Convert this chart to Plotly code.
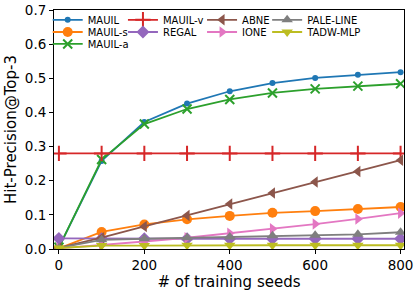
import plotly.graph_objects as go

seeds = [0, 100, 200, 300, 400, 500, 600, 700, 800]

mauil = [0.005, 0.258, 0.372, 0.426, 0.462, 0.486, 0.501, 0.510, 0.518]
mauil_s = [0.002, 0.050, 0.072, 0.087, 0.097, 0.106, 0.111, 0.117, 0.123]
mauil_a = [0.005, 0.262, 0.366, 0.410, 0.438, 0.457, 0.469, 0.477, 0.484]
mauil_v = [0.280, 0.280, 0.280, 0.280, 0.280, 0.280, 0.280, 0.280, 0.280]
regal = [0.031, 0.030, 0.030, 0.030, 0.030, 0.030, 0.030, 0.030, 0.030]
abne = [0.003, 0.033, 0.066, 0.098, 0.132, 0.164, 0.196, 0.227, 0.260]
ione = [0.002, 0.011, 0.022, 0.033, 0.046, 0.059, 0.073, 0.088, 0.105]
pale_line = [0.003, 0.027, 0.030, 0.033, 0.035, 0.039, 0.040, 0.043, 0.049]
tadw_mlp = [0.003, 0.010, 0.010, 0.011, 0.011, 0.011, 0.011, 0.011, 0.011]

y_ticks = [0.0, 0.1, 0.2, 0.3, 0.4, 0.5, 0.6, 0.7]
x_ticks = [0, 200, 400, 600, 800]

FONT = "DejaVu Sans"

series = [
    ("MAUIL", mauil, "#1f77b4", "circle", 6, "legend"),
    ("MAUIL-s", mauil_s, "#ff7f0e", "circle", 10, "legend2"),
    ("MAUIL-a", mauil_a, "#2ca02c", "x-thin", 9, "legend3"),
    ("MAUIL-v", mauil_v, "#d62728", "cross-thin", 11, "legend4"),
    ("REGAL", regal, "#9467bd", "diamond", 10, "legend5"),
    ("ABNE", abne, "#8c564b", "triangle-left", 10, "legend6"),
    ("IONE", ione, "#e377c2", "triangle-right", 10, "legend7"),
    ("PALE-LINE", pale_line, "#7f7f7f", "triangle-up", 10, "legend8"),
    ("TADW-MLP", tadw_mlp, "#bcbd22", "triangle-down", 10, "legend9"),
]

fig = go.Figure()
for name, ys, color, sym, size, leg in series:
    thin = sym.endswith("-thin")
    fig.add_trace(go.Scatter(
        x=seeds, y=ys, name=name, mode="lines+markers",
        line=dict(color=color, width=1.8),
        marker=dict(symbol=sym, size=size, color=color,
                    line=dict(color=color, width=2 if thin else 0)),
        legend=leg,
    ))

# legend layout: 4 columns, placed like the reference
col_x = [-0.018, 0.197, 0.423, 0.609]
row_y = [0.959, 0.908, 0.858]
positions = {
    "legend": (col_x[0], row_y[0]),
    "legend2": (col_x[0], row_y[1]),
    "legend3": (col_x[0], row_y[2]),
    "legend4": (col_x[1], row_y[0]),
    "legend5": (col_x[1], row_y[1]),
    "legend6": (col_x[2], row_y[0]),
    "legend7": (col_x[2], row_y[1]),
    "legend8": (col_x[3], row_y[0]),
    "legend9": (col_x[3], row_y[1]),
}
legend_layout = {}
for key, (lx, ly) in positions.items():
    legend_layout[key] = dict(
        x=lx, y=ly, xanchor="left", yanchor="middle",
        bgcolor="rgba(0,0,0,0)", borderwidth=0,
        font=dict(family=FONT, size=10, color="#000000"),
        tracegroupgap=0,
    )

axis_common = dict(
    showgrid=False, zeroline=False, showline=True, linecolor="#000000",
    linewidth=1, mirror=True, ticks="outside", ticklen=4, tickwidth=1,
    tickcolor="#000000", automargin=False,
    tickfont=dict(family=FONT, size=13.5, color="#000000"),
)

fig.update_layout(
    width=415, height=295,
    margin=dict(l=54, r=11, t=5, b=46),
    paper_bgcolor="#ffffff", plot_bgcolor="#ffffff",
    font=dict(family=FONT, color="#000000"),
    xaxis=dict(range=[-11.5, 808], tickvals=x_ticks,
               title=dict(text="# of training seeds",
                          font=dict(family=FONT, size=15, color="#000000"),
                          standoff=4),
               **axis_common),
    yaxis=dict(range=[0, 0.7], tickvals=y_ticks, tickformat=".1f",
               title=dict(text="Hit-Precision@Top-3",
                          font=dict(family=FONT, size=15, color="#000000"),
                          standoff=4),
               **axis_common),
    showlegend=True,
    **legend_layout,
)

fig.write_html(
    "out.html",
    config={"displayModeBar": False},
    post_script="document.body.style.margin='0';document.body.style.overflow='hidden';",
)
